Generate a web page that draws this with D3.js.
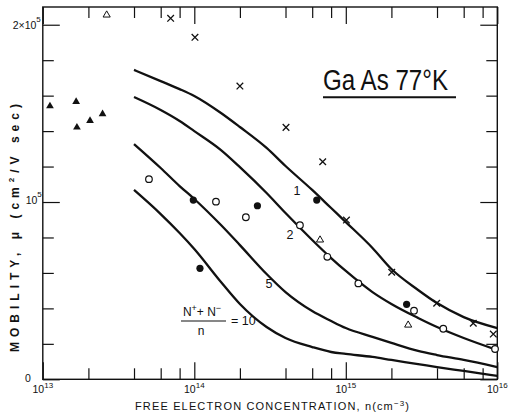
<!DOCTYPE html>
<html><head><meta charset="utf-8">
<script src="https://cdn.jsdelivr.net/npm/d3@7"></script>
<style>
body{margin:0;background:#fff}
svg{display:block}
text{font-family:"Liberation Sans","DejaVu Sans",sans-serif;fill:#111}
</style>
</head><body>
<svg id="chart" width="510" height="413"></svg>
<script>
// ---------- data (n in cm^-3, mobility in cm^2/V sec) ----------
const curveConc = [4e13,6e13,8e13,1e14,1.5e14,2e14,3e14,4e14,6e14,8e14,1e15,1.5e15,2e15,3e15,4e15,6e15,1e16];
const curve1  = [174500,168200,163700,159800,150200,142300,130500,120300,106800,96600,88700,74100,62200,50400,43000,35100,28900];
const curve2  = [159200,151900,145700,140000,129300,119700,105100,93800,78600,68400,61100,49200,42500,34600,29500,23300,16500];
const curve5  = [132700,119200,109000,101700,87000,75700,59400,49200,38500,32900,28900,23900,20500,16000,13700,10900,6900];
const curve10 = [106800,93200,82500,73500,54900,42500,29500,23300,18200,15400,14300,12600,10900,8600,6900,4700,1900];
const curveLabels = ["1","2","5","10"];

const crossN  = [6.98e13,1.01e14,2.0e14,4.03e14,7.04e14,1.01e15,2.01e15,3.98e15,6.94e15,9.41e15];
const crossMu = [203600,192900,165400,142100,122700,89800,60400,42900,31600,25500];
const openCircN  = [5.02e13,1.39e14,2.19e14,4.98e14,7.55e14,1.21e15,2.82e15,4.40e15,9.66e15];
const openCircMu = [112900,100200,91400,86900,69100,54100,38700,28500,17100];
const fillCircN  = [9.85e13,2.61e14,6.43e14,1.09e14,2.52e15];
const fillCircMu = [101100,97900,101100,62600,42300];
const fillTriN  = [1.115e13,1.66e13,1.68e13,2.05e13,2.48e13];
const fillTriMu = [154100,156600,142100,145900,149600];
const openTriN  = [2.64e13,6.76e14,2.58e15];
const openTriMu = [205500,78600,30600];

const xMajor = [1e13,1e14,1e15,1e16];
const xMinor = [2e13,4e13,6e13,8e13,2e14,4e14,6e14,8e14,2e15,4e15,6e15,8e15];
const xTickExp = ["13","14","15","16"];
const yMajor = [0,100000,200000];
const yMinor = [20000,40000,60000,80000,120000,140000,160000,180000];

// ---------- layout ----------
const W = 510, H = 413;
const m = {left:42.8, right:12.7, top:7, bottom:33.7};
const svg = d3.select("#chart");
const x = d3.scaleLog().domain([1e13,1e16]).range([m.left, W - m.right]);
const y = d3.scaleLinear().domain([0,210000]).range([H - m.bottom, m.top]);
const ink = "#111";

// frame
svg.append("rect").attr("x",x(1e13)).attr("y",y(210000))
  .attr("width",x(1e16)-x(1e13)).attr("height",y(0)-y(210000))
  .attr("fill","none").attr("stroke",ink).attr("stroke-width",1.4);

function ticks(axisFn, scale, vals, len, transform){
  const g = svg.append("g").attr("transform",transform)
    .call(axisFn(scale).tickValues(vals).tickSizeInner(len).tickSizeOuter(0).tickFormat(""));
  g.select(".domain").remove();
  g.selectAll(".tick line").attr("stroke",ink).attr("stroke-width",1.2);
}
const bottomY = y(0), topY = y(210000), leftX = x(1e13), rightX = x(1e16);
ticks(d3.axisBottom, x, xMajor, -17, `translate(0,${bottomY})`);
ticks(d3.axisBottom, x, xMinor, -11, `translate(0,${bottomY})`);
ticks(d3.axisTop, x, xMajor, -17, `translate(0,${topY})`);
ticks(d3.axisTop, x, xMinor, -11, `translate(0,${topY})`);
ticks(d3.axisLeft, y, yMajor, -17, `translate(${leftX},0)`);
ticks(d3.axisLeft, y, yMinor, -11, `translate(${leftX},0)`);
ticks(d3.axisRight, y, yMajor, -17, `translate(${rightX},0)`);
ticks(d3.axisRight, y, yMinor, -11, `translate(${rightX},0)`);

// x tick labels 10^n
xMajor.forEach((v,i)=>{
  const t = svg.append("text").attr("x",x(v)).attr("y",bottomY+14)
    .attr("text-anchor","middle").attr("font-size",10.5);
  t.append("tspan").text("10");
  t.append("tspan").attr("dy",-5).attr("font-size",8).text(xTickExp[i]);
});
// y tick labels
{
  svg.append("text").attr("x",leftX-12).attr("y",y(0)+3).attr("text-anchor","end").attr("font-size",10.5).text("0");
  const t1 = svg.append("text").attr("x",leftX-1).attr("y",y(100000)+2).attr("text-anchor","end").attr("font-size",10.5);
  t1.append("tspan").text("10");
  t1.append("tspan").attr("dy",-7).attr("font-size",8).text("5");
  const t2 = svg.append("text").attr("x",leftX-2).attr("y",y(200000)+4).attr("text-anchor","end").attr("font-size",10.5);
  t2.append("tspan").text("2×10");
  t2.append("tspan").attr("dy",-7).attr("font-size",8).text("5");
}

// axis titles
{
  const t = svg.append("text").attr("x",135).attr("y",409.5).attr("font-size",11)
    .attr("textLength",274).attr("lengthAdjust","spacing");
  t.append("tspan").text("FREE  ELECTRON  CONCENTRATION, n(cm");
  t.append("tspan").attr("dy",-4).attr("font-size",8).text("−3");
  t.append("tspan").attr("dy",4).text(")");
  const ty = svg.append("text").attr("transform","translate(19,352) rotate(-90)")
    .attr("font-size",12).attr("font-weight","bold").attr("textLength",248).attr("lengthAdjust","spacing");
  ty.append("tspan").text("MOBILITY, μ  (cm");
  ty.append("tspan").attr("dy",-5).attr("font-size",8).text("2");
  ty.append("tspan").attr("dy",5).text("/V sec)");
}

// title
svg.append("text").attr("x",323).attr("y",90).attr("font-size",30)
  .attr("textLength",125).attr("lengthAdjust","spacingAndGlyphs").text("Ga As 77°K");
svg.append("line").attr("x1",323).attr("x2",456).attr("y1",97.3).attr("y2",97.3)
  .attr("stroke",ink).attr("stroke-width",2);

// curves
const line = d3.line().x(d=>x(d[0])).y(d=>y(d[1])).curve(d3.curveMonotoneX);
[curve1,curve2,curve5,curve10].forEach(c=>{
  svg.append("path").attr("d",line(curveConc.map((n,i)=>[n,c[i]])))
    .attr("fill","none").attr("stroke",ink).attr("stroke-width",2.3);
});

// curve labels
svg.append("text").attr("x",297).attr("y",195).attr("text-anchor","middle").attr("font-size",12.5).text(curveLabels[0]);
svg.append("text").attr("x",290).attr("y",239).attr("text-anchor","middle").attr("font-size",12.5).text(curveLabels[1]);
svg.append("text").attr("x",269).attr("y",288).attr("text-anchor","middle").attr("font-size",12.5).text(curveLabels[2]);
{
  const num = svg.append("text").attr("x",202).attr("y",316).attr("text-anchor","middle").attr("font-size",12);
  num.append("tspan").text("N");
  num.append("tspan").attr("dy",-5).attr("font-size",9).text("+");
  num.append("tspan").attr("dy",5).text("+ N");
  num.append("tspan").attr("dy",-5).attr("font-size",9).text("−");
  svg.append("line").attr("x1",181).attr("x2",226).attr("y1",321).attr("y2",321).attr("stroke",ink).attr("stroke-width",1.2);
  svg.append("text").attr("x",201).attr("y",335).attr("text-anchor","middle").attr("font-size",12).text("n");
  svg.append("text").attr("x",231).attr("y",325).attr("font-size",12.5).text("= " + curveLabels[3]);
}

// markers
const g = svg.append("g");
crossN.forEach((n,i)=>{
  const cx = x(n), cy = y(crossMu[i]), s = 3.3;
  g.append("path").attr("d",`M${cx-s},${cy-s}L${cx+s},${cy+s}M${cx-s},${cy+s}L${cx+s},${cy-s}`)
    .attr("stroke",ink).attr("stroke-width",1.3);
});
openCircN.forEach((n,i)=>{
  g.append("circle").attr("cx",x(n)).attr("cy",y(openCircMu[i])).attr("r",3.3)
    .attr("fill","#fff").attr("stroke",ink).attr("stroke-width",1.2);
});
fillCircN.forEach((n,i)=>{
  g.append("circle").attr("cx",x(n)).attr("cy",y(fillCircMu[i])).attr("r",3.6).attr("fill",ink);
});
const tri = d3.symbol().type(d3.symbolTriangle);
fillTriN.forEach((n,i)=>{
  g.append("path").attr("d",tri.size(26)()).attr("transform",`translate(${x(n)},${y(fillTriMu[i])})`).attr("fill",ink);
});
openTriN.forEach((n,i)=>{
  g.append("path").attr("d",tri.size(22)()).attr("transform",`translate(${x(n)},${y(openTriMu[i])})`)
    .attr("fill","none").attr("stroke",ink).attr("stroke-width",1);
});
</script>
</body></html>
